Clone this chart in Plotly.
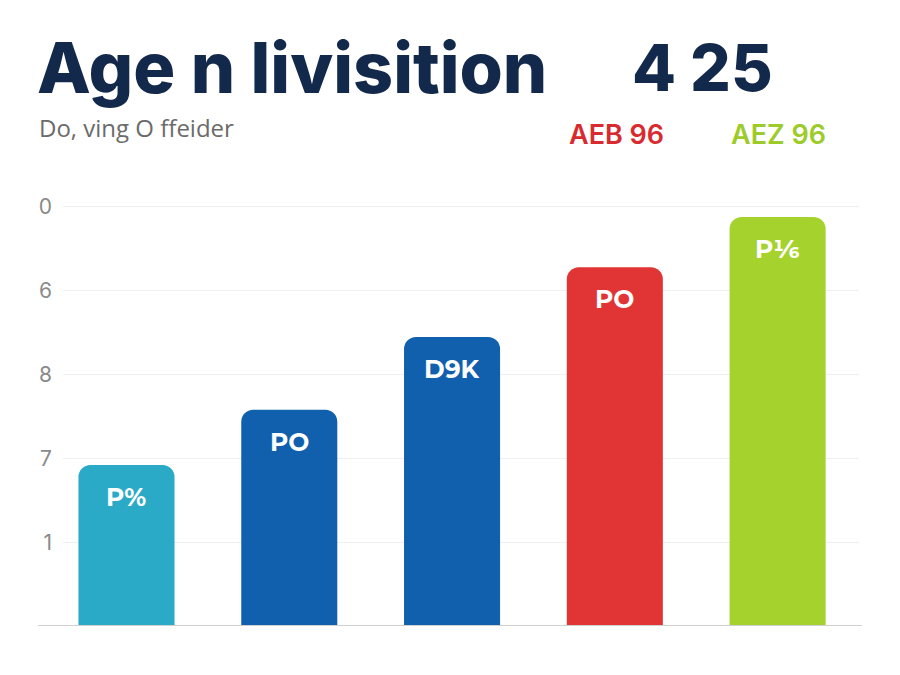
import plotly.graph_objects as go

categories = ["A", "B", "C", "D", "E"]
values = [1.92, 2.58, 3.45, 4.28, 4.88]
bar_labels = ["P%", "PO", "D9K", "PO", "P1⁄6"]
bar_colors = ["#2AAAC7", "#1160AE", "#1160AE", "#E13535", "#A5D22D"]
tick_vals = [1, 2, 3, 4, 5]
tick_text = ["1", "7", "8", "6", "0"]

title_text = "Age n livisition"
title_num = "4 25"
subtitle = "Do, ving O ffeider"
legend_items = [("AEB 96", "#D92B2F"), ("AEZ 96", "#9DCB2A")]

W, H = 900, 675
L, R, T, B = 63, 41, 195, 49
pw, ph = W - L - R, H - T - B

def px(x):
    return (x - L) / pw

def py(y):
    return (H - B - y) / ph

fig = go.Figure()
fig.add_trace(go.Bar(
    x=categories, y=values,
    marker=dict(color=bar_colors, cornerradius=12, line=dict(width=0)),
    width=0.59, hoverinfo="skip",
))

for c, v, t in zip(categories, values, bar_labels):
    fig.add_annotation(x=c, y=v, xref="x", yref="y", text=t, showarrow=False,
                       yanchor="middle", yshift=-32,
                       font=dict(family="Montserrat, Inter, sans-serif", size=25, color="white", weight=700))

fig.add_annotation(x=px(35), y=py(67), xref="paper", yref="paper", xanchor="left", yanchor="middle",
                   text=title_text, showarrow=False,
                   font=dict(family="Inter", size=70, color="#13294B", weight=800))
fig.add_annotation(x=px(630), y=py(67), xref="paper", yref="paper", xanchor="left", yanchor="middle",
                   text=title_num, showarrow=False,
                   font=dict(family="Inter", size=64, color="#13294B", weight=800))
fig.add_annotation(x=px(37), y=py(128), xref="paper", yref="paper", xanchor="left", yanchor="middle",
                   text=subtitle, showarrow=False,
                   font=dict(family="Open Sans", size=24, color="#6B6B6B"))
for (t, col), xc in zip(legend_items, [616, 778]):
    fig.add_annotation(x=px(xc), y=py(134), xref="paper", yref="paper", xanchor="center", yanchor="middle",
                       text=t, showarrow=False,
                       font=dict(family="Inter", size=27, color=col, weight=600))

fig.add_shape(type="line", xref="paper", yref="y", x0=px(38), x1=px(862), y0=0, y1=0,
              line=dict(color="#D0D0D0", width=2))

fig.update_layout(
    width=W, height=H, margin=dict(l=L, r=R, t=T, b=B),
    paper_bgcolor="white", plot_bgcolor="white", showlegend=False,
    xaxis=dict(range=[-0.39, 4.5], showticklabels=False, showgrid=False, zeroline=False, fixedrange=True),
    yaxis=dict(range=[0, 5.143], tickvals=tick_vals, ticktext=tick_text, showgrid=True,
               gridcolor="#EFEFEF", gridwidth=1, zeroline=False, ticks="", ticklabelstandoff=10,
               tickfont=dict(family="Inter", size=21, color="#8A8A8A")),
)

fig.write_html("out.html")
